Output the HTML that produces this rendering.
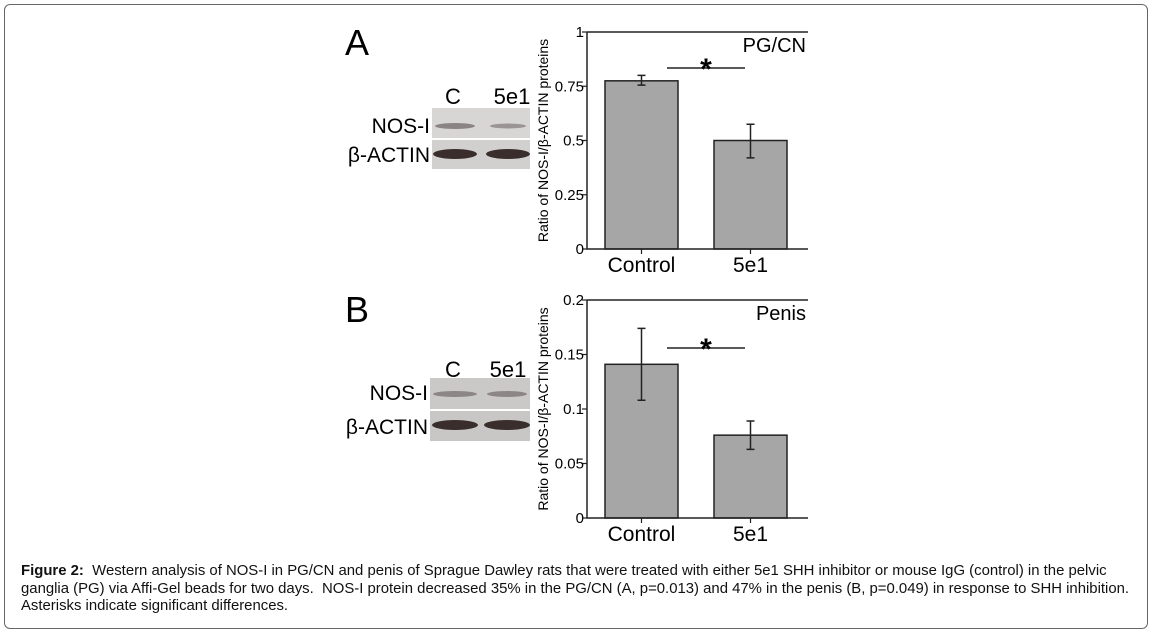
<!DOCTYPE html>
<html><head><meta charset="utf-8"><style>
html,body{margin:0;padding:0;background:#fff;width:1153px;height:635px;overflow:hidden}
#frame{position:absolute;left:4px;top:4px;width:1144px;height:625px;border:1px solid #666;border-radius:6px;box-sizing:border-box}
#cap{position:absolute;left:21px;top:563px;width:1130px;font:14.9px/17.5px "Liberation Sans",sans-serif;color:#111;white-space:nowrap}
svg{position:absolute;left:0;top:0}
</style></head><body>
<div id="frame"></div>
<svg width="1153" height="635" id="svg" font-family="Liberation Sans, sans-serif">
<text x="345" y="55" font-size="36">A</text>
<text x="345" y="322" font-size="36">B</text>
<g>
<text x="453" y="104" font-size="22" text-anchor="middle">C</text>
<text x="512" y="104" font-size="22" text-anchor="middle">5e1</text>
<text x="430" y="133" font-size="21" text-anchor="end">NOS-I</text>
<text x="430" y="162" font-size="21" text-anchor="end">β-ACTIN</text>
<rect x="432" y="108" width="98" height="30" fill="#d8d6d4"/>
<rect x="432" y="140" width="98" height="29" fill="#d2d0ce"/>
<ellipse cx="455" cy="126" rx="20" ry="3" fill="#8a8482"/>
<ellipse cx="508" cy="126" rx="18" ry="2.5" fill="#9a9492"/>
<ellipse cx="455" cy="154" rx="22" ry="5" fill="#3a2e2c"/>
<ellipse cx="508" cy="154" rx="22" ry="5" fill="#3a2e2c"/>
</g>
<g>
<text x="453" y="377" font-size="22" text-anchor="middle">C</text>
<text x="508" y="377" font-size="22" text-anchor="middle">5e1</text>
<text x="428" y="400" font-size="21" text-anchor="end">NOS-I</text>
<text x="428" y="434" font-size="21" text-anchor="end">β-ACTIN</text>
<rect x="430" y="378" width="100" height="31" fill="#cbc9c7"/>
<rect x="430" y="411" width="100" height="30" fill="#c9c7c5"/>
<ellipse cx="455" cy="394" rx="22" ry="3" fill="#8c8684"/>
<ellipse cx="507" cy="394" rx="20" ry="3" fill="#8c8684"/>
<ellipse cx="455" cy="425" rx="23" ry="5" fill="#3a2e2c"/>
<ellipse cx="507" cy="425" rx="23" ry="5" fill="#3a2e2c"/>
</g>
<g id="chartA"></g>
<g id="chartB"></g>
</svg>
<div id="cap"><b>Figure 2:</b>&nbsp; Western analysis of NOS-I in PG/CN and penis of Sprague Dawley rats that were treated with either 5e1 SHH inhibitor or mouse IgG (control) in the pelvic<br>ganglia (PG) via Affi-Gel beads for two days.&nbsp; NOS-I protein decreased 35% in the PG/CN (A, p=0.013) and 47% in the penis (B, p=0.049) in response to SHH inhibition.<br>Asterisks indicate significant differences.</div>
<script>
const categories=["Control","5e1"];
const valuesA=[0.775,0.50];
const errLowA=[0.755,0.42];
const errHighA=[0.80,0.575];
const ticksA=[0,0.25,0.5,0.75,1];
const tickLabelsA=["0","0.25","0.5","0.75","1"];
const valuesB=[0.141,0.076];
const errLowB=[0.108,0.063];
const errHighB=[0.174,0.089];
const ticksB=[0,0.05,0.1,0.15,0.2];
const tickLabelsB=["0","0.05","0.1","0.15","0.2"];
const NS="http://www.w3.org/2000/svg";
function mk(p,tag,a,txt){const e=document.createElementNS(NS,tag);for(const k in a)e.setAttribute(k,a[k]);if(txt!=null)e.textContent=txt;p.appendChild(e);return e;}
function chart(g,vals,lo,hi,ticks,labels,max,top,bottom,title,sigY){
  const x0=587,x1=808;
  const y=v=>bottom-(v/max)*(bottom-top);
  const bx=[605,714],bw=73;
  vals.forEach((v,i)=>{
    const r=mk(g,'rect',{x:bx[i],y:y(v),width:bw,height:bottom-y(v),fill:'#a6a6a6',stroke:'#222','stroke-width':1.5});
    
    
    const cx=bx[i]+bw/2;
    const eb=mk(g,'path',{d:`M${cx} ${y(lo[i])}V${y(hi[i])}M${cx-4} ${y(lo[i])}H${cx+4}M${cx-4} ${y(hi[i])}H${cx+4}`,stroke:'#222','stroke-width':1.5,fill:'none'});
    
    
    const t=mk(g,'text',{x:cx,y:bottom+23,'font-size':21,'text-anchor':'middle'},categories[i]);
    
    
    mk(g,'line',{x1:cx,x2:cx,y1:bottom,y2:bottom+5,stroke:'#222','stroke-width':1.2});
  });
  mk(g,'path',{d:`M${x0} ${top}V${bottom}H${x1}M${x0} ${top}H${x1}`,stroke:'#222','stroke-width':1.5,fill:'none'});
  ticks.forEach((t,i)=>{
    mk(g,'line',{x1:x0-5,x2:x0,y1:y(t),y2:y(t),stroke:'#222','stroke-width':1.2});
    const tl=mk(g,'text',{x:x0-3,y:y(t)+5,'font-size':15,'text-anchor':'end'},labels[i]);
    
    
  });
  const yt=mk(g,'text',{transform:`translate(548 ${(top+bottom)/2}) rotate(-90)`,'font-size':14,'text-anchor':'middle'},'Ratio of NOS-I/β-ACTIN proteins');
  
  
  const ti=mk(g,'text',{x:806,y:top+20,'font-size':20,'text-anchor':'end'},title);
  
  
  mk(g,'line',{x1:667,x2:745,y1:sigY,y2:sigY,stroke:'#222','stroke-width':1.5});
  const s=mk(g,'text',{x:706,y:sigY+11,'font-size':30,'font-weight':'bold','text-anchor':'middle'},'*');
  
  
}
chart(document.getElementById('chartA'),valuesA,errLowA,errHighA,ticksA,tickLabelsA,1,32,249,'PG/CN',68);
chart(document.getElementById('chartB'),valuesB,errLowB,errHighB,ticksB,tickLabelsB,0.2,300,518,'Penis',348);
</script>
</body></html>
